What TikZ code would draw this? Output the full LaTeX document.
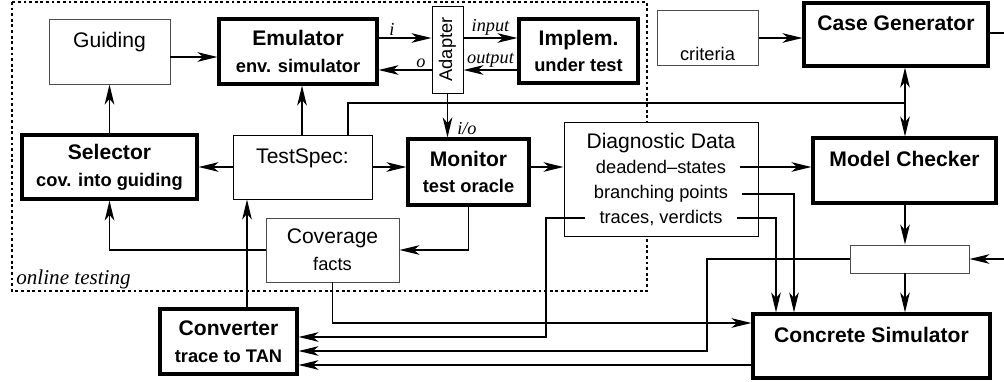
\documentclass[tikz,border=0pt]{standalone}
\usepackage{fontspec}
\setmainfont{Liberation Sans}
\newfontfamily\labelfont{Liberation Serif}
\usetikzlibrary{arrows.meta}
\newcommand\bigf{\fontsize{15}{19}\selectfont}
\newcommand\smf{\fontsize{13}{19}\selectfont}

\begin{document}
\begin{tikzpicture}[x=0.025cm,y=-0.025cm,
  thinbox/.style={draw=black!70, line width=0.7pt, fill=white, inner sep=0pt, align=center, font=\bigf},
  thickbox/.style={draw, line width=2.2pt, fill=white, inner sep=0pt, align=center, font=\bfseries\bigf},
  sz/.style 2 args={minimum width=#1*0.025cm, minimum height=#2*0.025cm},
  wire/.style={line width=0.9pt},
  conn/.style={wire, -{Stealth[length=0.5cm, width=0.24cm, inset=0.14cm]}},
  lbl/.style={font=\labelfont\itshape\smf, inner sep=1.5pt},
  diagline/.style={font=\smf, inner xsep=0.35cm, inner ysep=1pt}]
  \useasboundingbox (0,0) rectangle (1004,381);
  \draw[line width=0.8pt, dash pattern=on 2pt off 2pt] (12,2) rectangle (647,291);
  \node[lbl, font=\labelfont\itshape\bigf, anchor=west] (online) at (14,279) {online testing};

  \node[thinbox, sz={121}{65}] (guiding) at (109.5,51.5) {Guiding\\[-3pt]\mbox{}};
  \node[thickbox, sz={158}{65}] (emulator) at (298,51.5) {Emulator\\{\smf env. simulator}};
  \node[thinbox, draw=black, sz={87}{31}, rotate=90, font=\smf] (adapter) at (447.5,49.5) {Adapter};
  \node[thickbox, sz={119}{64}] (implem) at (578.5,51) {Implem.\\{\smf under test}};
  \node[thinbox, sz={101}{55}, font=\smf] (criteria) at (707.5,37.5) {\strut\\criteria};
  \node[thickbox, sz={184}{63}] (casegen) at (896,34.5) {Case Generator\\[-3pt]\mbox{}};
  \node[thickbox, sz={175}{64}] (selector) at (109.5,167) {Selector\\{\smf cov. into guiding}};
  \node[thinbox, draw=black, sz={139}{64}] (testspec) at (302.5,167) {TestSpec:\\[-3pt]\mbox{}};
  \node[thickbox, sz={121}{66}] (monitor) at (468.5,172) {Monitor\\{\smf test oracle}};
  \node[thinbox, draw=black, sz={194}{114}] (diag) at (661,179) {};
  \node[font=\bigf] (diagtitle) at (661,143) {Diagnostic Data};
  \node[diagline] (dead) at (661,167) {deadend--states};
  \node[diagline] (branch) at (661,194) {branching points};
  \node[diagline] (traces) at (661,218) {traces, verdicts};
  \node[thinbox, sz={133}{64}] (coverage) at (332.5,250) {Coverage\\{\smf facts}};
  \node[thickbox, sz={137}{65}] (converter) at (228.5,341.5) {Converter\\{\smf trace to TAN}};
  \node[thickbox, sz={183}{65}] (modelchk) at (904.5,170.5) {Model Checker\\[-3pt]\mbox{}};
  \node[thinbox, sz={119}{28}] (smallbox) at (909.5,259) {};
  \node[thickbox, sz={237}{64}] (concsim) at (871.5,346) {Concrete Simulator\\[-3pt]\mbox{}};

  \coordinate (junc) at (905,103);
  \coordinate (rin) at (1004,259);
  \coordinate (rout) at (1004,33);

  \draw[conn] (guiding.east |- 0,57) -- (emulator.west |- 0,57);
  \draw[conn] (selector) -- (guiding);
  \draw[conn] (testspec.north -| 302,0) -- (emulator.south -| 302,0);
  \draw[conn] (testspec.west) -- (selector.east);
  \draw[conn] (testspec.east) -- (monitor.west |- testspec.east);
  \draw[conn] (emulator.east |- 0,38) -- node[lbl, above, pos=0.25] {i} (adapter.north |- 0,38);
  \draw[conn] (adapter.north |- 0,70) -- node[lbl, above, pos=0.2] {o} (emulator.east |- 0,70);
  \draw[conn] (adapter.south |- 0,38) -- node[lbl, above] {input} (implem.west |- 0,38);
  \draw[conn] (implem.west |- 0,70) -- node[lbl, above] {output} (adapter.south |- 0,70);
  \draw[conn] (adapter.west) -- node[lbl, right=5pt, pos=0.8] {i/o} (monitor.north -| adapter.west);
  \draw[conn] (monitor.east |- testspec.east) -- (diag.west |- testspec.east);
  \draw[conn] (monitor.south) |- (coverage.east);
  \draw[conn] (coverage.west) -| (selector.south);
  \draw[conn] (converter.north -| 247,0) -- (testspec.south -| 247,0);
  \draw[wire] (testspec.north -| 348,0) |- (junc);
  \draw[conn] (junc) -- (casegen.south -| junc);
  \draw[conn] (junc) -- (modelchk.north -| junc);
  \draw[conn] (criteria.east |- 0,38) -- (casegen.west |- 0,38);
  \draw[wire] (casegen.east |- rout) -- (rout);
  \draw[conn] (dead.east) -- (modelchk.west |- dead.east);
  \draw[conn] (branch.east) -| (concsim.north -| 794,0);
  \draw[conn] (traces.east) -| (concsim.north -| 776,0);
  \draw[conn] (traces.west) -| (546,337) -- (converter.east |- 0,337);
  \draw[conn] (coverage.south) |- (concsim.west |- 0,323);
  \draw[conn] (smallbox.west) -| (707,351) -- (converter.east |- 0,351);
  \draw[conn] (concsim.west |- 0,365) -- (converter.east |- 0,365);
  \draw[conn] (modelchk.south -| junc) -- (smallbox.north -| junc);
  \draw[conn] (smallbox.south -| junc) -- (concsim.north -| junc);
  \draw[conn] (rin) -- (smallbox.east);
\end{tikzpicture}
\end{document}
